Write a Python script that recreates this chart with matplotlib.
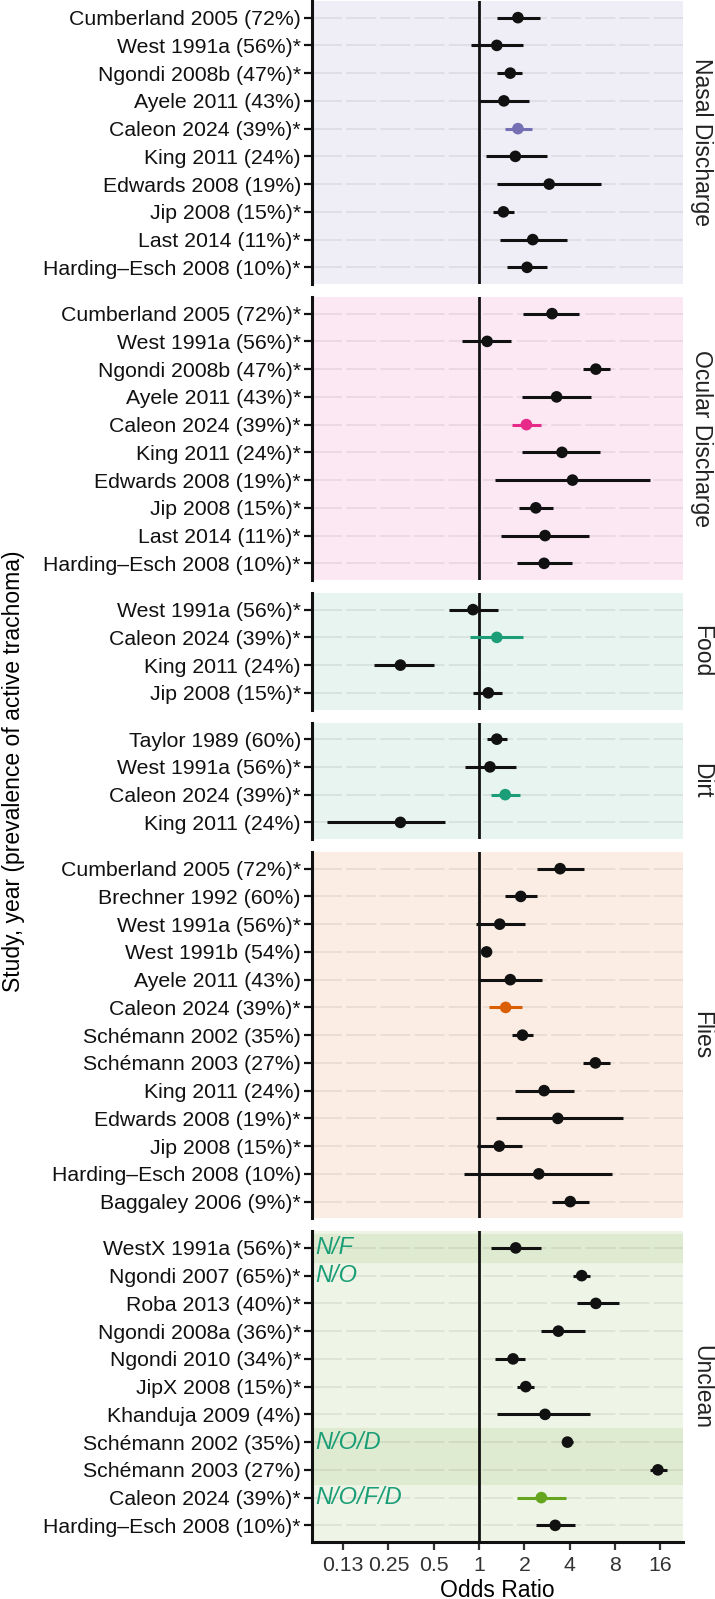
import numpy as np
import matplotlib
matplotlib.use("Agg")
import matplotlib.pyplot as plt

plt.rcParams['font.family'] = ['Liberation Sans', 'DejaVu Sans']

# === data (odds ratio, lower CI, upper CI) ===
nasal_labels = ["Cumberland 2005 (72%)", "West 1991a (56%)*", "Ngondi 2008b (47%)*", "Ayele 2011 (43%)",
                "Caleon 2024 (39%)*", "King 2011 (24%)", "Edwards 2008 (19%)", "Jip 2008 (15%)*",
                "Last 2014 (11%)*", "Harding–Esch 2008 (10%)*"]
nasal_or = [1.81, 1.31, 1.61, 1.46, 1.81, 1.74, 2.92, 1.45, 2.27, 2.08]
nasal_lo = [1.31, 0.88, 1.31, 1.00, 1.48, 1.11, 1.32, 1.23, 1.37, 1.54]
nasal_hi = [2.54, 1.97, 1.92, 2.13, 2.25, 2.84, 6.40, 1.70, 3.83, 2.84]

ocular_labels = ["Cumberland 2005 (72%)*", "West 1991a (56%)*", "Ngondi 2008b (47%)*", "Ayele 2011 (43%)*",
                 "Caleon 2024 (39%)*", "King 2011 (24%)*", "Edwards 2008 (19%)*", "Jip 2008 (15%)*",
                 "Last 2014 (11%)*", "Harding–Esch 2008 (10%)*"]
ocular_or = [3.05, 1.13, 5.96, 3.27, 2.06, 3.55, 4.17, 2.38, 2.74, 2.70]
ocular_lo = [1.96, 0.77, 4.93, 1.93, 1.65, 1.93, 1.28, 1.83, 1.40, 1.78]
ocular_hi = [4.63, 1.64, 7.36, 5.55, 2.56, 6.35, 13.6, 3.09, 5.40, 4.14]

food_labels = ["West 1991a (56%)*", "Caleon 2024 (39%)*", "King 2011 (24%)", "Jip 2008 (15%)*"]
food_or = [0.91, 1.31, 0.30, 1.15]
food_lo = [0.63, 0.87, 0.20, 0.91]
food_hi = [1.34, 1.96, 0.50, 1.42]

dirt_labels = ["Taylor 1989 (60%)", "West 1991a (56%)*", "Caleon 2024 (39%)*", "King 2011 (24%)"]
dirt_or = [1.31, 1.18, 1.49, 0.30]
dirt_lo = [1.13, 0.80, 1.19, 0.098]
dirt_hi = [1.53, 1.76, 1.88, 0.595]

flies_labels = ["Cumberland 2005 (72%)*", "Brechner 1992 (60%)", "West 1991a (56%)*", "West 1991b (54%)",
                "Ayele 2011 (43%)", "Caleon 2024 (39%)*", "Schémann 2002 (35%)", "Schémann 2003 (27%)",
                "King 2011 (24%)", "Edwards 2008 (19%)*", "Jip 2008 (15%)*", "Harding–Esch 2008 (10%)",
                "Baggaley 2006 (9%)*"]
flies_or = [3.45, 1.89, 1.37, 1.12, 1.61, 1.50, 1.94, 5.92, 2.70, 3.33, 1.36, 2.49, 4.03]
flies_lo = [2.42, 1.48, 0.95, 1.08, 0.98, 1.17, 1.65, 4.87, 1.73, 1.29, 0.97, 0.79, 3.07]
flies_hi = [4.97, 2.42, 2.01, 1.17, 2.63, 1.94, 2.28, 7.36, 4.26, 9.07, 1.92, 7.62, 5.40]

unclean_labels = ["WestX 1991a (56%)*", "Ngondi 2007 (65%)*", "Roba 2013 (40%)*", "Ngondi 2008a (36%)*",
                  "Ngondi 2010 (34%)*", "JipX 2008 (15%)*", "Khanduja 2009 (4%)", "Schémann 2002 (35%)",
                  "Schémann 2003 (27%)", "Caleon 2024 (39%)*", "Harding–Esch 2008 (10%)*"]
unclean_or = [1.75, 4.80, 5.96, 3.36, 1.68, 2.04, 2.74, 3.86, 15.4, 2.59, 3.20]
unclean_lo = [1.20, 4.23, 4.44, 2.56, 1.27, 1.79, 1.31, 3.55, 13.7, 1.79, 2.37]
unclean_hi = [2.56, 5.47, 8.46, 5.03, 2.01, 2.33, 5.43, 4.20, 17.6, 3.76, 4.35]

# unclean annotations: (row index, text) and shaded row spans
unclean_notes = [(0, "N/F"), (1, "N/O"), (7, "N/O/D"), (9, "N/O/F/D")]
unclean_bands = [(0, 0), (7, 8)]

facets = [
    ("Nasal Discharge", nasal_labels, nasal_or, nasal_lo, nasal_hi, "#efeef6", "#7570b3"),
    ("Ocular Discharge", ocular_labels, ocular_or, ocular_lo, ocular_hi, "#fce8f3", "#e7298a"),
    ("Food", food_labels, food_or, food_lo, food_hi, "#e8f4ef", "#1b9e77"),
    ("Dirt", dirt_labels, dirt_or, dirt_lo, dirt_hi, "#e8f4ef", "#1b9e77"),
    ("Flies", flies_labels, flies_or, flies_lo, flies_hi, "#fbede3", "#d95f02"),
    ("Unclean", unclean_labels, unclean_or, unclean_lo, unclean_hi, "#eef5e7", "#66a61e"),
]

x_ticks = [0.125, 0.25, 0.5, 1, 2, 4, 8, 16]
x_ticklabels = ["0.13", "0.25", "0.5", "1", "2", "4", "8", "16"]

# === layout ===
W, H = 715, 1599
fig = plt.figure(figsize=(W / 100, H / 100), dpi=100)
ratios = [len(f[1]) + 0.2 for f in facets]
gap = 13
axes_h = (1541 - 5 * gap) / 6
gs = fig.add_gridspec(len(facets), 1, height_ratios=ratios,
                      left=312 / W, right=683 / W, top=1 - 1 / H, bottom=1 - 1542 / H,
                      hspace=gap / axes_h)

for i, (name, labels, ors, los, his, bg, hl) in enumerate(facets):
    ax = fig.add_subplot(gs[i])
    n = len(labels)
    y = np.arange(n)
    ax.set_facecolor(bg)
    ax.set_xscale('log', base=2)
    ax.set_xlim(0.0776, 22.6)
    ax.set_ylim(n - 0.4, -0.6)

    # shaded bands + notes for the unclean panel
    if name == "Unclean":
        for a, b in unclean_bands:
            ax.axhspan(a - 0.5, b + 0.5, color="#dfebd0", zorder=0)
        for r, txt in unclean_notes:
            ax.text(0.082, r, txt, color="#1b9e77", style="italic", fontsize=17,
                    va="center", ha="left", zorder=3)

    # dashed row lines
    for yy in y:
        ax.axhline(yy, color="#000000", alpha=0.08, lw=1.2,
                   linestyle=(0, (18, 2.5)), zorder=1)

    ax.axvline(1, color="#111111", lw=2, zorder=2)

    colors = [hl if lab.startswith("Caleon") else "#111111" for lab in labels]
    ax.hlines(y, los, his, colors=colors, lw=2.2, zorder=4)
    ax.scatter(ors, y, s=70, c=colors, zorder=5, linewidths=0)

    ax.set_yticks(y)
    ax.set_yticklabels(labels, fontsize=15.3, color="#111111")
    ax.tick_params(axis='y', length=6, width=1.6, pad=2, color="#111111")
    ax.spines['left'].set_linewidth(2.2)
    ax.spines['left'].set_color("#111111")
    for s in ['top', 'right']:
        ax.spines[s].set_visible(False)

    ax.text(1.05, 0.5, name, transform=ax.transAxes, rotation=-90,
            fontsize=16.5, va="center", ha="center", color="#222222")

    if i == len(facets) - 1:
        ax.set_xticks(x_ticks)
        ax.set_xticklabels(x_ticklabels, fontsize=15.3, color="#333333")
        ax.xaxis.set_minor_locator(matplotlib.ticker.NullLocator())
        ax.tick_params(axis='x', length=6, width=1.6, pad=4, color="#333333")
        ax.spines['bottom'].set_linewidth(2.2)
        ax.spines['bottom'].set_color("#111111")
        ax.set_xlabel("Odds Ratio", fontsize=16.5, labelpad=3)
    else:
        ax.spines['bottom'].set_visible(False)
        ax.set_xticks([])
        ax.xaxis.set_minor_locator(matplotlib.ticker.NullLocator())

fig.text(14 / W, 1 - 771 / H, "Study, year (prevalence of active trachoma)",
         rotation=90, fontsize=16.5, va="center", ha="center")

fig.savefig("out.png", dpi=100)
